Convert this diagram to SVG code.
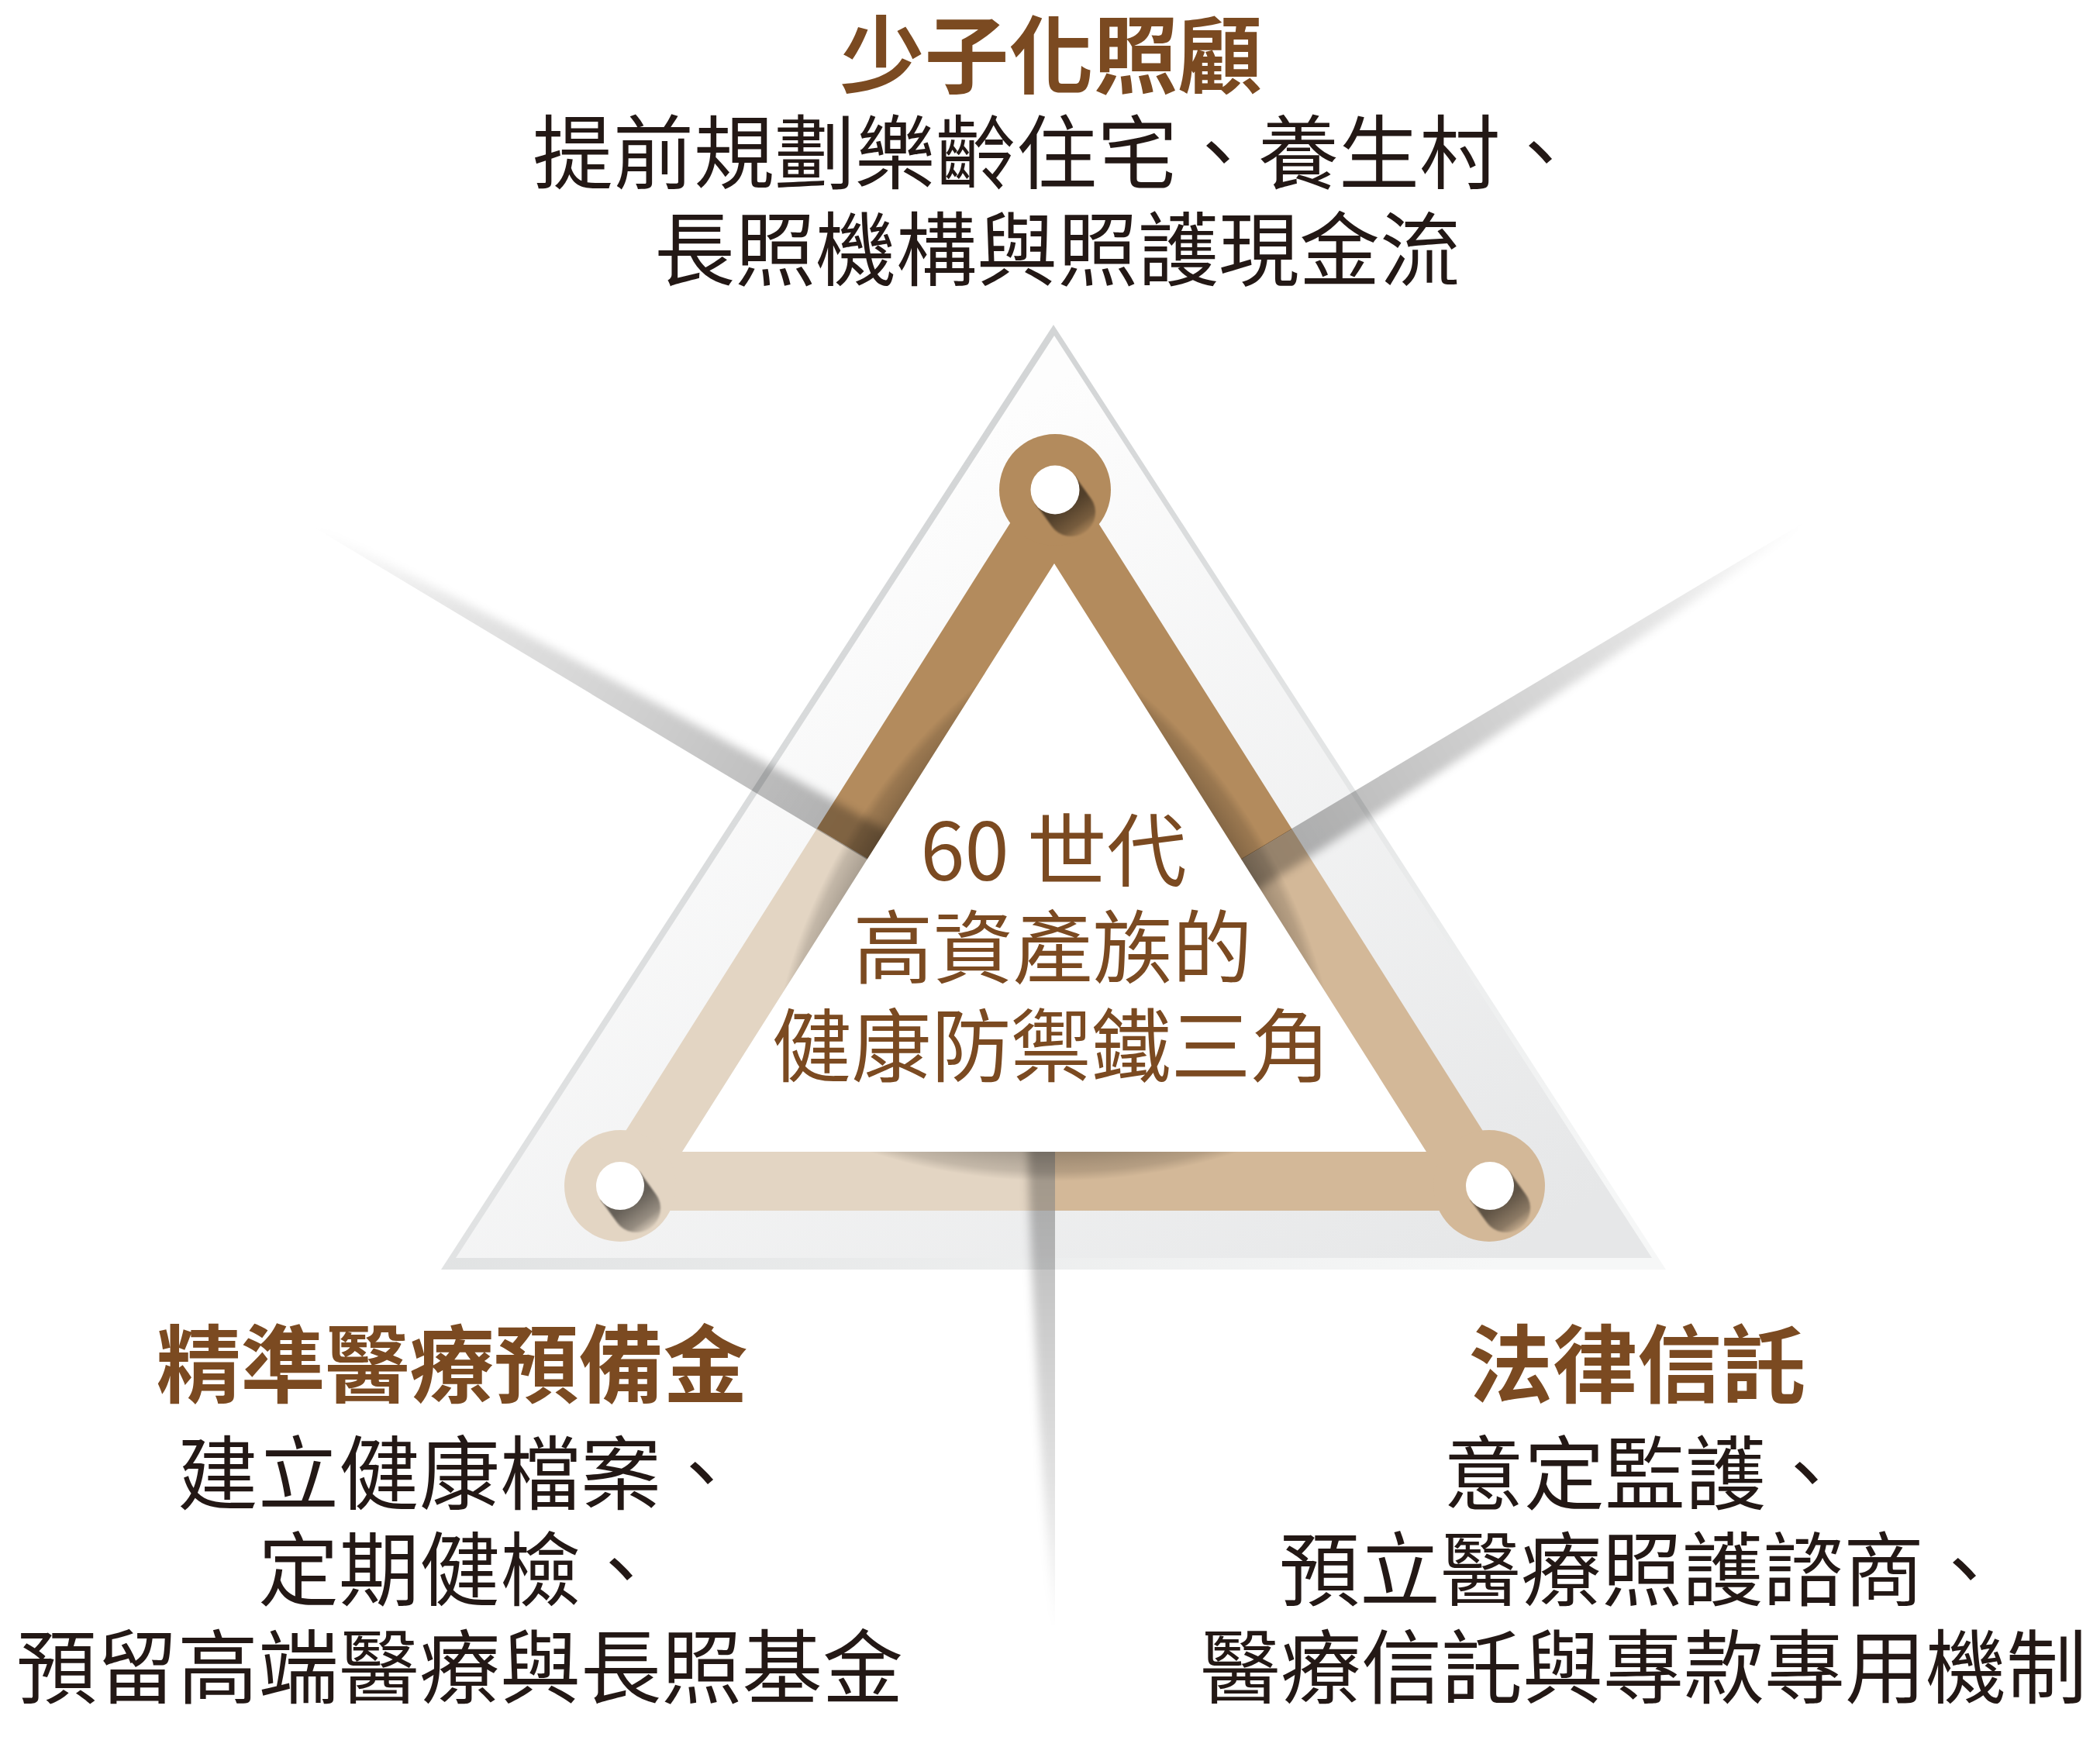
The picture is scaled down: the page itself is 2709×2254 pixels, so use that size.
<svg xmlns="http://www.w3.org/2000/svg" width="2709" height="2254" viewBox="0 0 2709 2254">
<style>
.title{font-family:"Noto Sans CJK TC","Noto Sans CJK SC",sans-serif;font-weight:700;font-size:109px;fill:#7b4a21;text-anchor:middle}
.body{font-family:"Noto Sans CJK TC","Noto Sans CJK SC",sans-serif;font-weight:400;font-size:104px;fill:#231815;text-anchor:middle}
.center{font-family:"Noto Sans CJK TC","Noto Sans CJK SC",sans-serif;font-weight:400;font-size:103px;fill:#7b4a21;text-anchor:middle}
.hole{fill:#ffffff}
.holeShadow{fill:url(#holeShadowGrad);filter:url(#soft)}
.ray{fill:url(#rayGrad);filter:url(#rayBlur)}
.edgeShadow{fill:url(#edgeShadowGrad)}
</style>
<defs>
  <linearGradient id="glassFill" gradientUnits="userSpaceOnUse" x1="1200" y1="600" x2="1900" y2="1650">
    <stop offset="0" stop-color="#fdfdfd"/>
    <stop offset="1" stop-color="#e6e7e8"/>
  </linearGradient>
  <linearGradient id="glassEdge" gradientUnits="userSpaceOnUse" x1="1200" y1="600" x2="1900" y2="1650">
    <stop offset="0" stop-color="#d3d5d6"/>
    <stop offset="1" stop-color="#f6f7f7"/>
  </linearGradient>
  <linearGradient id="rayGrad" x1="0" y1="0" x2="1" y2="0">
    <stop offset="0" stop-color="#000" stop-opacity="0"/>
    <stop offset="0.25" stop-color="#000" stop-opacity="0.1"/>
    <stop offset="0.6" stop-color="#000" stop-opacity="0.2"/>
    <stop offset="1" stop-color="#000" stop-opacity="0.32"/>
  </linearGradient>
  <linearGradient id="holeShadowGrad" gradientUnits="userSpaceOnUse" x1="26" y1="0" x2="68" y2="0">
    <stop offset="0" stop-color="#000" stop-opacity="0.55"/>
    <stop offset="0.65" stop-color="#000" stop-opacity="0.34"/>
    <stop offset="1" stop-color="#000" stop-opacity="0.06"/>
  </linearGradient>
  <radialGradient id="edgeShadowGrad" cx="0.5" cy="0.5" r="0.5">
    <stop offset="0" stop-color="#000" stop-opacity="0"/>
    <stop offset="0.84" stop-color="#000" stop-opacity="0"/>
    <stop offset="0.875" stop-color="#000" stop-opacity="0.26"/>
    <stop offset="0.96" stop-color="#000" stop-opacity="0.14"/>
    <stop offset="1" stop-color="#000" stop-opacity="0"/>
  </radialGradient>
  <filter id="rayBlur" filterUnits="userSpaceOnUse" x="-60" y="-150" width="1060" height="250">
    <feGaussianBlur stdDeviation="6"/>
  </filter>
  <filter id="soft" filterUnits="userSpaceOnUse" x="-60" y="-60" width="180" height="120">
    <feGaussianBlur stdDeviation="1.3"/>
  </filter>
  <clipPath id="zoneTop"><polygon points="0,0 2709,0 2709,446 1361,1253 0,437"/></clipPath>
  <clipPath id="zoneLeft"><polygon points="0,437 1361,1253 1361,2254 0,2254"/></clipPath>
  <clipPath id="zoneRight"><polygon points="2709,446 1361,1253 1361,2254 2709,2254"/></clipPath>
  <clipPath id="edgeBottom"><polygon points="880,1486 1840,1486 1978,1562 742,1562"/></clipPath>
  <clipPath id="edgeLeft"><polygon points="1360,727 880,1486 742,1562 1360,585"/></clipPath>
  <clipPath id="edgeRight"><polygon points="1360,727 1840,1486 1978,1562 1360,585"/></clipPath>
  <clipPath id="notInner"><path clip-rule="evenodd" d="M0,0H2709V2254H0Z M1360,727 L880,1486 L1840,1486 Z"/></clipPath>
  <clipPath id="halfUp"><rect x="-60" y="-400" width="1000" height="400"/></clipPath>
  <g id="bandShape">
    <path fill-rule="evenodd" d="M1360,585 L742,1562 L1978,1562 Z M1360,727 L880,1486 L1840,1486 Z"/>
    <circle cx="1361" cy="632" r="72"/>
    <circle cx="800" cy="1530" r="72"/>
    <circle cx="1921" cy="1530" r="72"/>
  </g>
</defs>

<rect width="2709" height="2254" fill="#ffffff"/>

<g id="glass">
  <polygon points="1359,419 569,1638 2149,1638" fill="url(#glassEdge)"/>
  <polygon points="1360,433 588,1623 2131,1623" fill="url(#glassFill)"/>
  <polygon points="1360,727 880,1486 1840,1486" fill="#ffffff"/>
</g>

<g id="band">
  <use href="#bandShape" fill="#b38b5d" clip-path="url(#zoneTop)"/>
  <use href="#bandShape" fill="#e3d5c3" clip-path="url(#zoneLeft)"/>
  <use href="#bandShape" fill="#d3b898" clip-path="url(#zoneRight)"/>
  <g clip-path="url(#edgeBottom)"><ellipse class="edgeShadow" cx="1360" cy="1222" rx="494" ry="302"/></g>
  <g clip-path="url(#edgeLeft)"><ellipse class="edgeShadow" cx="1360" cy="1222" rx="494" ry="302" transform="rotate(122.3 1360 1222)"/></g>
  <g clip-path="url(#edgeRight)"><ellipse class="edgeShadow" cx="1360" cy="1222" rx="494" ry="302" transform="rotate(-122.3 1360 1222)"/></g>
</g>

<g id="connectors">
  <g clip-path="url(#notInner)">
    <g transform="translate(401,678) rotate(31)" clip-path="url(#halfUp)">
      <path class="ray" d="M0,10 L880,28 L880,-46 L836,-45 C620,-40 300,-26 0,0 Z"/>
    </g>
    <g transform="translate(2329,673) rotate(149.13)" clip-path="url(#halfUp)">
      <path class="ray" d="M0,10 L890,28 L890,-46 L848,-45 C630,-40 300,-26 0,0 Z"/>
    </g>
    <g transform="translate(1361,2107) rotate(-90)" clip-path="url(#halfUp)">
      <path class="ray" d="M0,8 L660,18 L660,-36 L621,-35 C450,-31 200,-18 0,0 Z"/>
    </g>
  </g>
</g>

<g id="joints">
  <g id="joint-top">
    <g transform="translate(1361,632) rotate(54.1)"><path class="holeShadow" d="M0,-31 L35.8,-31 A31,31 0 0 1 35.8,31 L0,31 Z"/></g>
    <circle class="hole" cx="1361" cy="632" r="31.5"/>
  </g>
  <g id="joint-left">
    <g transform="translate(800,1530) rotate(54.1)"><path class="holeShadow" d="M0,-31 L35.8,-31 A31,31 0 0 1 35.8,31 L0,31 Z"/></g>
    <circle class="hole" cx="800" cy="1530" r="31"/>
  </g>
  <g id="joint-right">
    <g transform="translate(1922,1530) rotate(54.1)"><path class="holeShadow" d="M0,-31 L35.8,-31 A31,31 0 0 1 35.8,31 L0,31 Z"/></g>
    <circle class="hole" cx="1922" cy="1530" r="31"/>
  </g>
</g>

<g id="node-center">
  <text class="center" x="1359" y="1136">60 世代</text>
  <text class="center" x="1358" y="1261">高資產族的</text>
  <text class="center" x="1356" y="1388">健康防禦鐵三角</text>
</g>

<g id="node-top">
  <text class="title" x="1356" y="112">少子化照顧</text>
  <text class="body" x="1363" y="236">提前規劃樂齡住宅、養生村、</text>
  <text class="body" x="1364" y="361">長照機構與照護現金流</text>
</g>

<g id="node-left">
  <text class="title" x="583" y="1801">精準醫療預備金</text>
  <text class="body" x="593" y="1940">建立健康檔案、</text>
  <text class="body" x="593" y="2064">定期健檢、</text>
  <text class="body" x="593" y="2190">預留高端醫療與長照基金</text>
</g>

<g id="node-right">
  <text class="title" x="2112" y="1801">法律信託</text>
  <text class="body" x="2122" y="1940">意定監護、</text>
  <text class="body" x="2118" y="2064">預立醫療照護諮商、</text>
  <text class="body" x="2120" y="2190">醫療信託與專款專用機制</text>
</g>
</svg>
